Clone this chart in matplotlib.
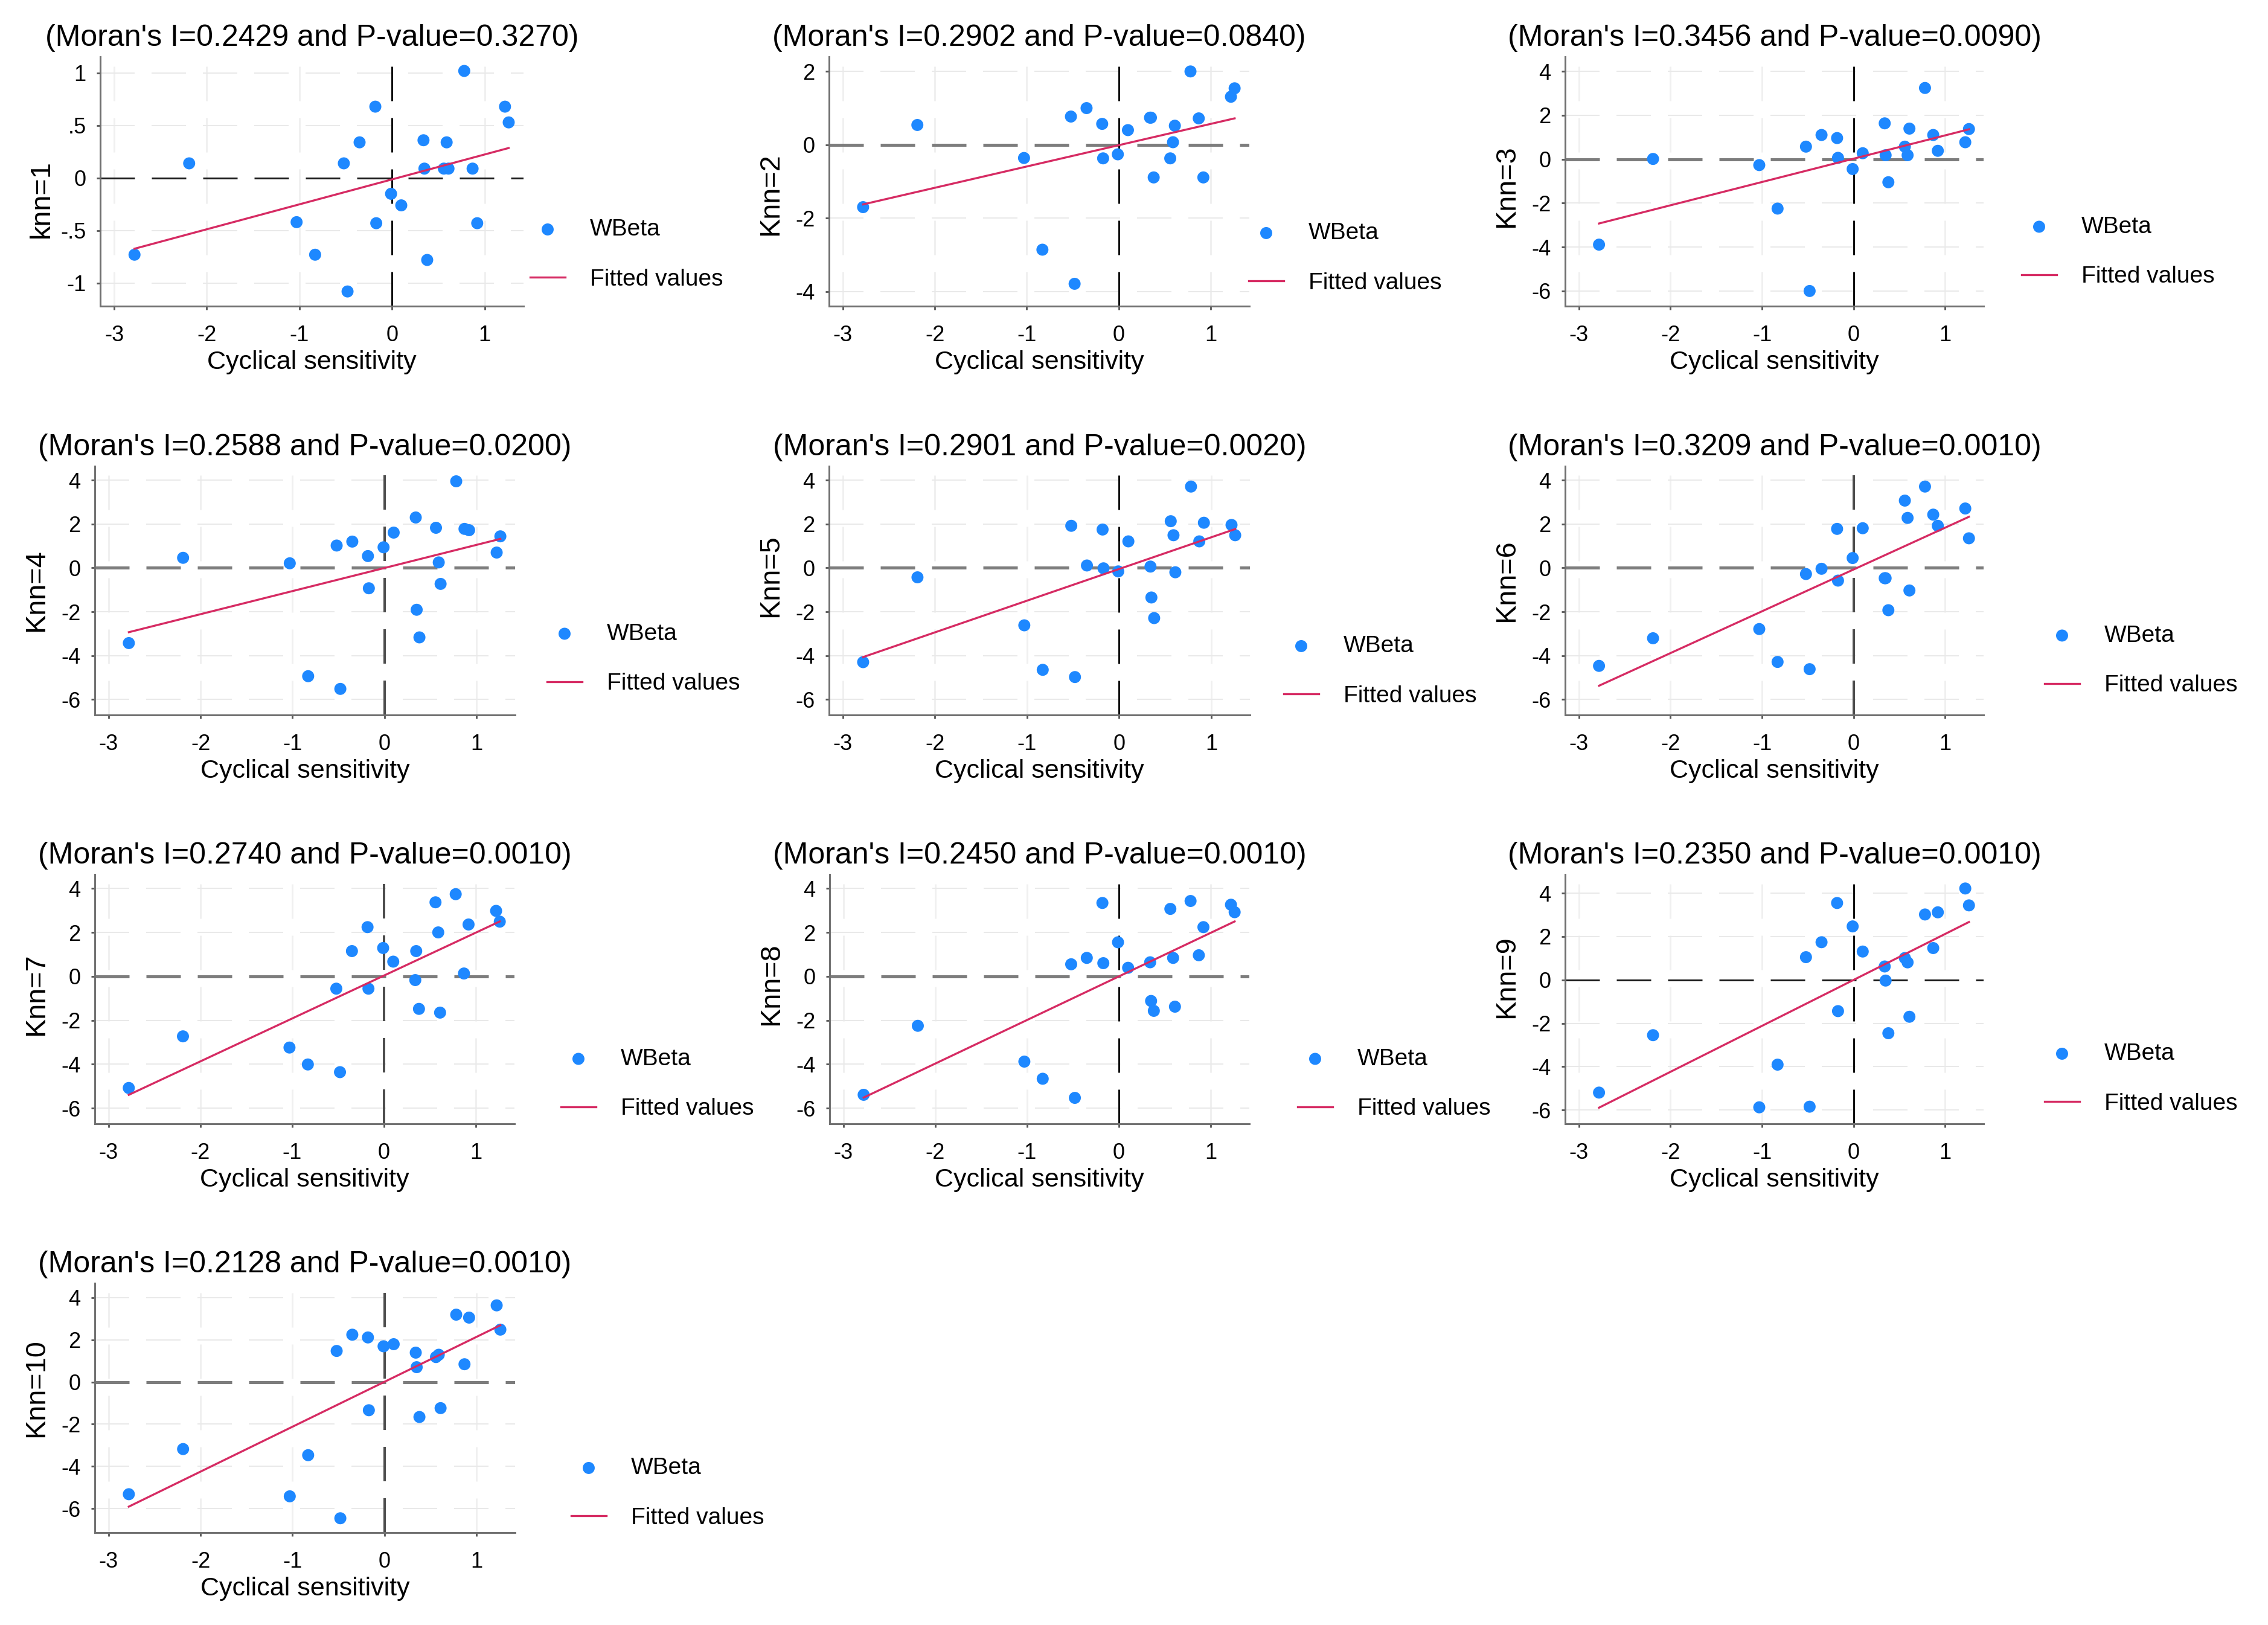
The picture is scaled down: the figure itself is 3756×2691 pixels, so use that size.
import numpy as np
import matplotlib
matplotlib.use("Agg")
import matplotlib.pyplot as plt

# ---------------- data ----------------
cyclical_sensitivity = [-2.78, -2.19, -1.03, -0.83, -0.52, -0.48, -0.35, -0.18, -0.17, -0.01, 0.10,
                        0.34, 0.35, 0.38, 0.56, 0.59, 0.61, 0.78, 0.87, 0.92, 1.22, 1.26]

wbeta_knn1 = [-0.73, 0.14, -0.42, -0.73, 0.14, -1.08, 0.34, 0.68, -0.43, -0.15, -0.26,
              0.36, 0.09, -0.78, 0.09, 0.34, 0.09, 1.02, 0.09, -0.43, 0.68, 0.53]
wbeta_knn2 = [-1.70, 0.54, -0.36, -2.86, 0.77, -3.79, 1.00, 0.57, -0.37, -0.26, 0.40,
              0.74, 0.74, -0.89, -0.37, 0.07, 0.52, 2.00, 0.72, -0.89, 1.31, 1.54]
wbeta_knn3 = [-3.89, 0.01, -0.27, -2.25, 0.57, -6.00, 1.10, 0.96, 0.06, -0.45, 0.27,
              1.63, 0.18, -1.05, 0.57, 0.18, 1.39, 3.24, 1.10, 0.38, 0.77, 1.37]
wbeta_knn4 = [-3.43, 0.46, 0.21, -4.94, 1.02, -5.52, 1.20, 0.54, -0.93, 0.94, 1.61,
              2.30, -1.91, -3.17, 1.83, 0.25, -0.73, 3.95, 1.78, 1.72, 0.70, 1.44]
wbeta_knn5 = [-4.30, -0.43, -2.62, -4.65, 1.92, -4.98, 0.11, 1.75, -0.02, -0.16, 1.21,
              0.06, -1.35, -2.29, 2.13, 1.49, -0.20, 3.71, 1.21, 2.06, 1.96, 1.49]
wbeta_knn6 = [-4.47, -3.21, -2.79, -4.29, -0.28, -4.62, -0.04, 1.78, -0.58, 0.45, 1.81,
              -0.47, -0.47, -1.93, 3.07, 2.28, -1.03, 3.71, 2.43, 1.92, 2.71, 1.35]
wbeta_knn7 = [-5.08, -2.73, -3.24, -4.01, -0.56, -4.36, 1.15, 2.24, -0.56, 1.29, 0.67,
              -0.17, 1.15, -1.48, 3.37, 2.00, -1.65, 3.74, 0.13, 2.36, 2.98, 2.49]
wbeta_knn8 = [-5.39, -2.25, -3.88, -4.66, 0.55, -5.53, 0.84, 3.34, 0.60, 1.55, 0.39,
              0.64, -1.12, -1.57, 3.07, 0.84, -1.38, 3.43, 0.96, 2.24, 3.26, 2.92]
wbeta_knn9 = [-5.20, -2.55, -5.88, -3.91, 1.05, -5.85, 1.74, 3.55, -1.44, 2.47, 1.31,
              0.62, -0.03, -2.46, 1.01, 0.81, -1.70, 3.02, 1.47, 3.12, 4.22, 3.44]
wbeta_knn10 = [-5.32, -3.18, -5.42, -3.47, 1.47, -6.46, 2.24, 2.11, -1.34, 1.69, 1.79,
               1.39, 0.70, -1.66, 1.18, 1.29, -1.24, 3.19, 0.84, 3.05, 3.63, 2.48]

panel_series = [wbeta_knn1, wbeta_knn2, wbeta_knn3, wbeta_knn4, wbeta_knn5,
                wbeta_knn6, wbeta_knn7, wbeta_knn8, wbeta_knn9, wbeta_knn10]
knn_labels = ["knn=1", "Knn=2", "Knn=3", "Knn=4", "Knn=5",
              "Knn=6", "Knn=7", "Knn=8", "Knn=9", "Knn=10"]
morans_i = ["0.2429", "0.2902", "0.3456", "0.2588", "0.2901",
            "0.3209", "0.2740", "0.2450", "0.2350", "0.2128"]
p_values = ["0.3270", "0.0840", "0.0090", "0.0200", "0.0020",
            "0.0010", "0.0010", "0.0010", "0.0010", "0.0010"]

x_ticks = [-3, -2, -1, 0, 1]
x_tick_labels = ["-3", "-2", "-1", "0", "1"]
y_ticks_knn1 = [-1, -0.5, 0, 0.5, 1]
y_tick_labels_knn1 = ["-1", "-.5", "0", ".5", "1"]
y_ticks_knn2 = [-4, -2, 0, 2]
y_tick_labels_knn2 = ["-4", "-2", "0", "2"]
y_ticks_wide = [-6, -4, -2, 0, 2, 4]
y_tick_labels_wide = ["-6", "-4", "-2", "0", "2", "4"]
series_names = ["WBeta", "Fitted values"]
x_title = "Cyclical sensitivity"

# ---------------- layout (pixels of a 3756 x 2691 canvas) ----------------
W, H = 3756, 2691
DPI = 250
axes_px = [  # left, top, right, bottom
    (166, 94, 867, 507), (1373, 94, 2069, 507), (2592, 94, 3285, 507),
    (157, 772, 853, 1184), (1373, 772, 2070, 1184), (2592, 772, 3285, 1184),
    (157, 1448, 852, 1861), (1374, 1448, 2069, 1861), (2592, 1448, 3285, 1861),
    (157, 2125, 853, 2538),
]
ylims = [(-1.22, 1.155), (-4.40, 2.40), (-6.69, 4.66), (-6.71, 4.64), (-6.71, 4.64),
         (-6.71, 4.64), (-6.71, 4.64), (-6.71, 4.64), (-6.64, 4.87), (-7.14, 4.68)]
xlim = (-3.15, 1.42)
legend_px = [  # marker x, marker y, line y
    (907, 382, 461), (2097, 386, 469), (3377, 375, 459),
    (935, 1049, 1133), (2155, 1070, 1153), (3415, 1052, 1136),
    (958, 1754, 1836), (2178, 1754, 1836), (3415, 1743, 1830),
    (975, 2430, 2515),
]
ylabel_yfrac = [0.43, 0.45, 0.48, 0.50, 0.56, 0.54, 0.52, 0.56, 0.59, 0.58]
hline_color = ["#1a1a1a", "#7d7d7d", "#7d7d7d", "#7d7d7d", "#7d7d7d",
               "#7d7d7d", "#7d7d7d", "#7d7d7d", "#1a1a1a", "#7d7d7d"]
hline_px = [3, 5, 5, 5, 5, 5, 5, 5, 3, 5]
vline_color = ["#111111", "#111111", "#111111", "#4d4d4d", "#111111",
               "#4d4d4d", "#4d4d4d", "#111111", "#111111", "#4d4d4d"]
vline_px = [3, 3, 3, 4, 3, 4, 4, 3, 3, 4]

PX = 72.0 / DPI  # points per pixel
DASH_ON, DASH_OFF = 57 * PX, 28 * PX

BLUE = "#1E88FF"
PINK = "#D62B63"
FONT = ["Liberation Sans", "DejaVu Sans"]
plt.rcParams["font.family"] = FONT

fig = plt.figure(figsize=(W / DPI, H / DPI), dpi=DPI)
fig.patch.set_facecolor("white")


def dashed(lw):
    return (0, (DASH_ON / lw, DASH_OFF / lw))


for i, yvals in enumerate(panel_series):
    l, t, r, b = axes_px[i]
    ax = fig.add_axes([l / W, 1 - b / H, (r - l) / W, (b - t) / H])
    x = np.array(cyclical_sensitivity)
    y = np.array(yvals)

    ax.set_xlim(*xlim)
    ax.set_ylim(*ylims[i])

    if i == 0:
        yt, ytl = y_ticks_knn1, y_tick_labels_knn1
    elif i == 1:
        yt, ytl = y_ticks_knn2, y_tick_labels_knn2
    else:
        yt, ytl = y_ticks_wide, y_tick_labels_wide

    # grid lines (dashed, very light)
    glw = 2 * PX
    for v in yt:
        if v != 0:
            ax.axhline(v, color="#e9e9e9", lw=glw, ls=dashed(glw), zorder=0.5)
    vglw = 3 * PX
    for v in x_ticks:
        if v != 0:
            ax.axvline(v, color="#f0f0f0", lw=vglw, ls=dashed(vglw), zorder=0.4)

    # reference lines at zero
    hl = hline_px[i] * PX
    ax.axhline(0, color=hline_color[i], lw=hl, ls=dashed(hl), zorder=1)
    vl = vline_px[i] * PX
    ax.axvline(0, color=vline_color[i], lw=vl, ls=dashed(vl), zorder=1)

    sc = ax.scatter(x, y, s=33, color=BLUE, edgecolors="none", zorder=3)
    slope, intercept = np.polyfit(x, y, 1)
    xs = np.array([x.min(), x.max()])
    ln, = ax.plot(xs, intercept + slope * xs, color=PINK, lw=3 * PX * 1.0 + 0.1, zorder=4)

    # axes styling
    for side in ("top", "right"):
        ax.spines[side].set_visible(False)
    for side in ("left", "bottom"):
        ax.spines[side].set_color("#707070")
        ax.spines[side].set_linewidth(0.85)
    ax.set_xticks(x_ticks)
    ax.set_xticklabels(x_tick_labels)
    ax.set_yticks(yt)
    ax.set_yticklabels(ytl)
    ax.tick_params(axis="both", direction="out", length=1.8, width=0.8,
                   color="#555555", labelsize=10.4, labelcolor="black")
    ax.tick_params(axis="y", pad=5)
    ax.tick_params(axis="x", pad=7)

    ax.set_xlabel(x_title, fontsize=12.4)
    ax.xaxis.set_label_coords(0.5, -(93 / (b - t)))
    ax.xaxis.label.set_va("center")
    ax.set_ylabel(knn_labels[i], fontsize=13.5)
    ax.yaxis.set_label_coords(-97 / (r - l), ylabel_yfrac[i])
    ax.yaxis.label.set_va("center")

    ax.text(0.5, 1 + 31 / (b - t),
            f"(Moran's I={morans_i[i]} and P-value={p_values[i]})",
            transform=ax.transAxes, ha="center", va="center", fontsize=14.4)

    mx, my, lyy = legend_px[i]
    anchor_x = (mx - 29) / W
    anchor_y = 1 - ((my + lyy) / 2) / H
    ax.legend([sc, ln], series_names, loc="center left",
              bbox_to_anchor=(anchor_x, anchor_y), bbox_transform=fig.transFigure,
              frameon=False, borderpad=0, borderaxespad=0, handlelength=1.49,
              handletextpad=1.05, labelspacing=1.2, fontsize=11.2, scatterpoints=1)

fig.savefig("out.png", dpi=DPI, facecolor="white")
